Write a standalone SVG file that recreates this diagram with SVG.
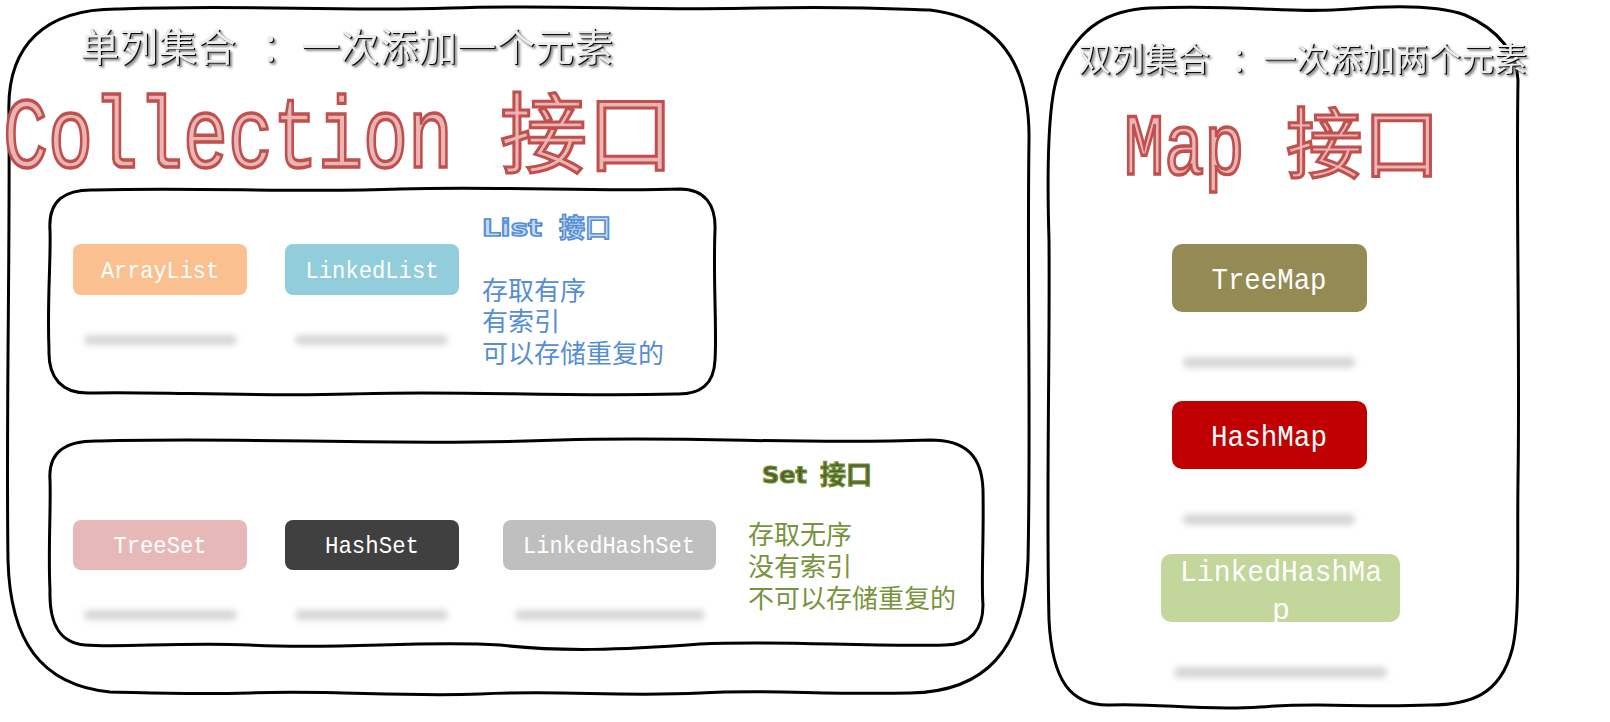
<svg xmlns="http://www.w3.org/2000/svg" width="1610" height="722" viewBox="0 0 1610 722">
<style>
.sketch{fill:none;stroke:#000;stroke-width:3;stroke-linejoin:round;stroke-linecap:round}
.node-label{font-family:"Liberation Mono",monospace;fill:#fff;text-anchor:middle}
.bar{fill:#d6d6d6}
.title-cjk{font-family:"Liberation Sans","Noto Sans CJK SC",sans-serif}
.big{font-family:"Liberation Mono",monospace;fill:#eab6b5;stroke:#c0504d;stroke-width:3.4}
.bigcjk{font-family:"Liberation Sans","Noto Sans CJK SC",sans-serif;fill:#eab6b5;stroke:#c0504d;stroke-width:3}
.desc{font-family:"Liberation Sans","Noto Sans CJK SC",sans-serif;font-size:26px}
</style>
<defs>
<filter id="blur" x="-20%" y="-100%" width="140%" height="300%"><feGaussianBlur stdDeviation="3"/></filter>
<filter id="shadow" x="-5%" y="-20%" width="110%" height="150%"><feDropShadow dx="2" dy="2" stdDeviation="1.2" flood-color="#666" flood-opacity="0.7"/></filter>
</defs>
<rect width="1610" height="722" fill="#fff"/>

<g id="collection-group">
<path class="sketch" d="M 9,115 C 6,45 45,8 120,9 C 250,4 330,12 450,8 C 560,4 640,11 760,8 C 850,6 900,9 930,10 C 995,18 1030,60 1029,140 C 1027,280 1031,420 1028,560 C 1025,650 985,692 910,693 C 820,695 770,689 700,693 C 620,697 560,690 480,694 C 400,697 330,690 250,693 C 180,695 130,692 110,692 C 40,685 10,640 8,560 C 6,420 10,260 9,115 Z"/>
<g filter="url(#shadow)" class="title-cjk" font-size="39">
<g transform="translate(1.3,1.3)" fill="#111">
<text x="80" y="61">单列集合</text><text x="280" y="61" text-anchor="middle">：</text><text x="301" y="61">一次添加一个元素</text>
</g>
<g fill="#ececec">
<text x="80" y="61">单列集合</text><text x="280" y="61" text-anchor="middle">：</text><text x="301" y="61">一次添加一个元素</text>
</g>
</g>
<text class="big" transform="translate(3,167) scale(0.75,1)" font-size="100">Collection</text>
<text class="bigcjk" x="500" y="166" font-size="87">接口</text>
</g>

<g id="list-group">
<path class="sketch" d="M 50,230 C 48,200 65,189 95,190 C 200,187 300,193 400,189 C 500,186 600,192 680,189 C 705,189 716,205 715,230 C 713,280 717,330 715,360 C 714,385 700,395 675,394 C 560,397 450,390 350,394 C 250,397 150,391 90,393 C 62,394 48,378 49,350 C 47,300 51,260 50,230 Z"/>
<text x="482" y="236" font-family="DejaVu Sans,sans-serif" font-weight="bold" font-size="23" fill="#c6d9f1" stroke="#558ed5" stroke-width="1.6" textLength="60" lengthAdjust="spacingAndGlyphs">List</text>
<text x="559" y="237" font-family="Liberation Sans,Noto Sans CJK SC,sans-serif" font-weight="bold" font-size="26" fill="#c6d9f1" stroke="#558ed5" stroke-width="1.6">接口</text>
<g class="desc" fill="#558ed5">
<text x="482" y="300">存取有序</text>
<text x="482" y="331">有索引</text>
<text x="482" y="363">可以存储重复的</text>
</g>
</g>

<g id="ArrayList">
<rect x="73" y="244" width="174" height="51" rx="8" fill="#fac090"/>
<text class="node-label" x="160" y="278" font-size="24" textLength="118" lengthAdjust="spacingAndGlyphs">ArrayList</text>
<rect class="bar" x="84" y="335" width="153" height="10" rx="5" filter="url(#blur)"/>
</g>
<g id="LinkedList">
<rect x="285" y="244" width="174" height="51" rx="8" fill="#92cddc"/>
<text class="node-label" x="372" y="278" font-size="24" textLength="133" lengthAdjust="spacingAndGlyphs">LinkedList</text>
<rect class="bar" x="295" y="335" width="153" height="10" rx="5" filter="url(#blur)"/>
</g>

<g id="set-group">
<path class="sketch" d="M 50,480 C 48,452 65,440 100,441 C 250,437 400,446 560,440 C 700,436 800,445 930,440 C 965,440 982,455 983,490 C 984,540 981,580 983,605 C 983,630 970,645 945,645 C 860,647 780,640 700,644 C 620,650 560,652 500,645 C 420,640 340,650 250,645 C 180,642 120,648 85,645 C 60,643 49,625 50,590 C 48,550 51,510 50,480 Z"/>
<text x="762" y="483" font-family="DejaVu Sans,sans-serif" font-weight="bold" font-size="23" fill="#4f6228" stroke="#77933c" stroke-width="1.2" textLength="45" lengthAdjust="spacingAndGlyphs">Set</text>
<text x="820" y="484" font-family="Liberation Sans,Noto Sans CJK SC,sans-serif" font-weight="bold" font-size="26" fill="#4f6228" stroke="#77933c" stroke-width="1.2">接口</text>
<g class="desc" fill="#77933c">
<text x="748" y="544">存取无序</text>
<text x="748" y="576">没有索引</text>
<text x="748" y="608">不可以存储重复的</text>
</g>
</g>

<g id="TreeSet">
<rect x="73" y="520" width="174" height="50" rx="8" fill="#e6b9b8"/>
<text class="node-label" x="160" y="553" font-size="24" textLength="93" lengthAdjust="spacingAndGlyphs">TreeSet</text>
<rect class="bar" x="84" y="610" width="153" height="10" rx="5" filter="url(#blur)"/>
</g>
<g id="HashSet">
<rect x="285" y="520" width="174" height="50" rx="8" fill="#404040"/>
<text class="node-label" x="372" y="553" font-size="24" textLength="94" lengthAdjust="spacingAndGlyphs">HashSet</text>
<rect class="bar" x="295" y="610" width="153" height="10" rx="5" filter="url(#blur)"/>
</g>
<g id="LinkedHashSet">
<rect x="503" y="520" width="213" height="50" rx="8" fill="#bfbfbf"/>
<text class="node-label" x="609" y="553" font-size="24" textLength="172" lengthAdjust="spacingAndGlyphs">LinkedHashSet</text>
<rect class="bar" x="515" y="610" width="190" height="10" rx="5" filter="url(#blur)"/>
</g>

<g id="map-group">
<path class="sketch" d="M 1049,240 C 1046,140 1050,90 1060,70 C 1080,25 1110,10 1150,8 C 1240,4 1290,14 1350,9 C 1400,5 1440,6 1465,15 C 1500,30 1517,55 1518,80 C 1516,200 1520,350 1518,480 C 1517,560 1520,620 1512,650 C 1500,695 1470,705 1430,705 C 1360,708 1320,702 1260,707 C 1200,711 1160,703 1110,705 C 1070,706 1052,680 1049,620 C 1046,500 1050,360 1049,240 Z"/>
<g filter="url(#shadow)" class="title-cjk" font-size="33">
<g transform="translate(1.2,1.2)" fill="#111">
<text x="1078" y="71">双列集合</text><text x="1247" y="71" text-anchor="middle">：</text><text x="1263" y="71">一次添加两个元素</text>
</g>
<g fill="#ececec">
<text x="1078" y="71">双列集合</text><text x="1247" y="71" text-anchor="middle">：</text><text x="1263" y="71">一次添加两个元素</text>
</g>
</g>
<text class="big" transform="translate(1124,174) scale(0.76,1)" font-size="88">Map</text>
<text class="bigcjk" x="1286" y="172" font-size="77">接口</text>
</g>

<g id="TreeMap">
<rect x="1172" y="244" width="195" height="68" rx="10" fill="#948a54"/>
<text class="node-label" x="1269" y="289" font-size="30" textLength="115" lengthAdjust="spacingAndGlyphs">TreeMap</text>
<rect class="bar" x="1183" y="357" width="172" height="11" rx="5" filter="url(#blur)"/>
</g>
<g id="HashMap">
<rect x="1172" y="401" width="195" height="68" rx="10" fill="#c00000"/>
<text class="node-label" x="1269" y="446" font-size="30" textLength="116" lengthAdjust="spacingAndGlyphs">HashMap</text>
<rect class="bar" x="1183" y="514" width="172" height="11" rx="5" filter="url(#blur)"/>
</g>
<g id="LinkedHashMap">
<rect x="1161" y="554" width="239" height="68" rx="10" fill="#c3d69b"/>
<text class="node-label" x="1281" y="581" font-size="30" textLength="202" lengthAdjust="spacingAndGlyphs">LinkedHashMa</text>
<text class="node-label" x="1281" y="619" font-size="30">p</text>
<rect class="bar" x="1174" y="667" width="213" height="11" rx="5" filter="url(#blur)"/>
</g>
</svg>
